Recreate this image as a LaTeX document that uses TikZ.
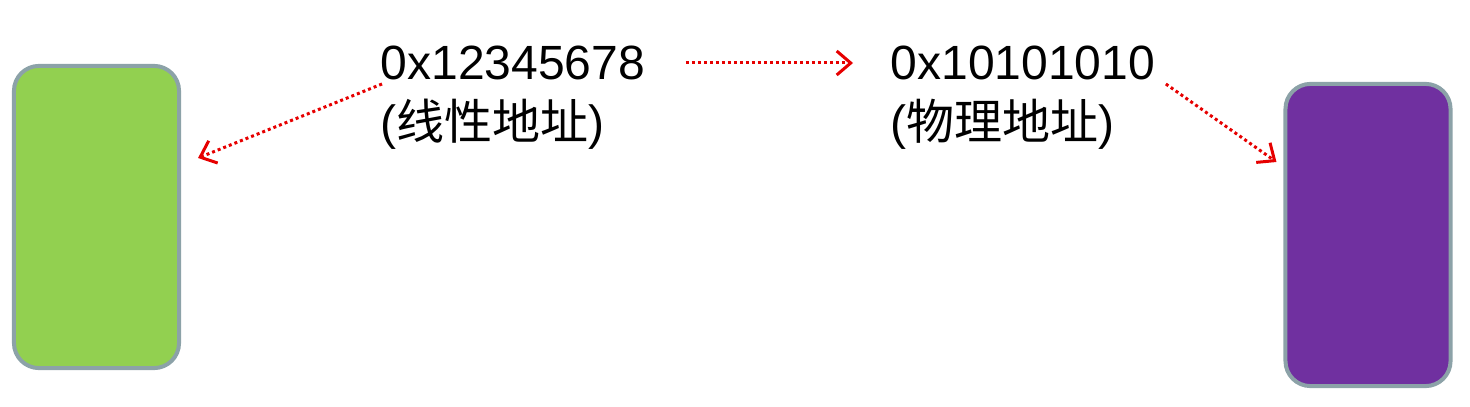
\documentclass[tikz,border=0pt]{standalone}
\usepackage{fontspec}
\setmainfont{Liberation Sans}
\newfontfamily\cjk{Noto Sans CJK SC}
\usepackage{xcolor}
\definecolor{Col1}{RGB}{146,208,80}
\definecolor{Col2}{RGB}{112,48,160}
\definecolor{Col3}{RGB}{230,0,0}
\definecolor{Col5}{RGB}{140,162,168}
\usepackage{tikz}
\usetikzlibrary{arrows.meta}
\tikzstyle{Box}=[rectangle,draw=Col5,line width=0.04cm,rounded corners=0.25cm,
minimum width=1.65cm,minimum height=3.02cm,inner sep=0pt]
\tikzstyle{Link}=[draw=Col3,line width=0.03cm,dash pattern=on 0.03cm off 0.03cm,
-{Straight Barb[length=0.14cm,width=0.24cm,line width=0.03cm]}]
\tikzstyle{Addr}=[inner sep=0pt,anchor=base west,
font=\fontsize{13.66pt}{16pt}\selectfont]

\begin{document}
\begin{tikzpicture}[x=0.01cm,y=0.01cm]
            \useasboundingbox(0,0)rectangle(1470,406);
            \node[Box,fill=Col1](green)at(96.5,189){};
            \node[Box,fill=Col2](purple)at(1368,171){};
            \node[Addr](lin1)at(380,326){0x12345678};
            \node[Addr](lin2)at(380,266){(\cjk 线性地址\rmfamily)};
            \node[Addr](phy1)at(890,326){0x10101010};
            \node[Addr](phy2)at(890,266){(\cjk 物理地址\rmfamily)};
            \draw[Link]([shift={(2,-4)}]lin1.base west)
                --([shift={(17,59)}]green.east);
            \draw[Link]([shift={(40,17)}]lin1.base east)
                --([shift={(-37,17)}]phy1.base west);
            \draw[Link]([shift={(10,-4)}]phy1.base east)
                --([shift={(-7,73)}]purple.west);
        \end{tikzpicture}
\end{document}
